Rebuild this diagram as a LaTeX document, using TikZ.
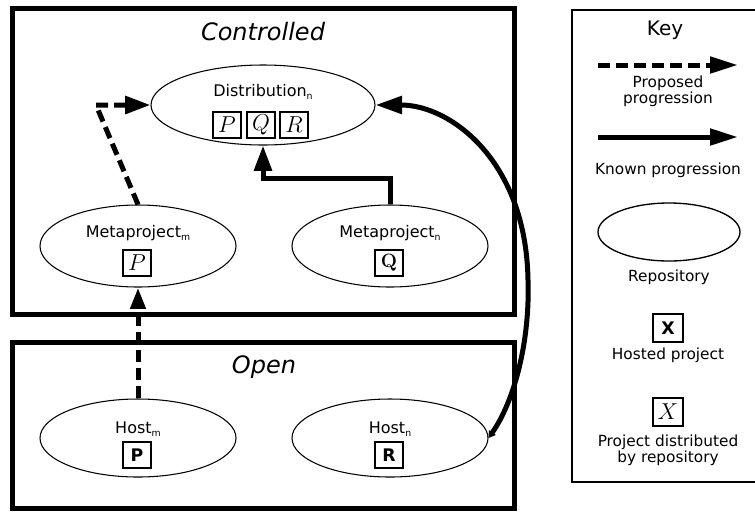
\documentclass[tikz,border=0pt]{standalone}
\usepackage[no-math]{fontspec}
\setmainfont{DejaVu Sans}
\usetikzlibrary{shapes.geometric,arrows.meta}
\newcommand{\repsub}[1]{\raisebox{-2.5pt}{\fontsize{7}{7}\selectfont #1}}

\begin{document}
\begin{tikzpicture}[x=0.75pt,y=-0.75pt]
		\tikzset{repo/.style={draw,ellipse,line width=0.8pt,inner sep=0pt},
			proj/.style={draw,line width=0.9pt,minimum width=21pt,minimum height=19.5pt,inner sep=0pt,font=\fontsize{16}{16}\selectfont},
			region/.style={draw,line width=3.75pt},
			known/.style={line width=3.75pt,-{Triangle[length=19pt,width=13pt]}},
			proposed/.style={known,dash pattern=on 9pt off 4.5pt},
			lbl/.style={font=\fontsize{12}{14}\selectfont},
			keylbl/.style={font=\fontsize{11.5}{12}\selectfont,align=center},
			boxtitle/.style={font=\fontsize{18}{20}\selectfont\itshape}};
		\useasboundingbox (0,0) rectangle (755,511);
		\draw[region] (12,8) rectangle (514,314);
		\draw[region] (12,342) rectangle (514,508);
		\draw[line width=1.1pt] (572,10) rectangle (775,482);
		\node[boxtitle] (controlled) at (263,32) {Controlled};
		\node[boxtitle] (open) at (264,367) {Open};
		\node[repo,minimum width=168pt,minimum height=60pt] (dist) at (263,105) {};
		\node[lbl] (distname) at (263,92) {Distribution\repsub{n}};
		\node[proj] (distp) at (227,125) {$P$};
		\node[proj] (distq) at (261,125) {$Q$};
		\node[proj] (distr) at (294,125) {$R$};
		\node[repo,minimum width=147pt,minimum height=61.5pt] (metam) at (138,246) {};
		\node[lbl] (metamname) at (138,233) {Metaproject\repsub{m}};
		\node[proj] (metamp) at (137,263) {$P$};
		\node[repo,minimum width=147pt,minimum height=61.5pt] (metan) at (390,246) {};
		\node[lbl] (metanname) at (390,233) {Metaproject\repsub{n}};
		\node[proj,font=\fontsize{15}{15}\selectfont] (metanq) at (389,263) {$\mathbf{Q}$};
		\node[repo,minimum width=147pt,minimum height=58.5pt] (hostm) at (138,438) {};
		\node[lbl] (hostmname) at (138,429) {Host\repsub{m}};
		\node[proj,font=\fontsize{13}{13}\selectfont] (hostmp) at (137,455) {\textbf{P}};
		\node[repo,minimum width=147pt,minimum height=58.5pt] (hostn) at (390,438) {};
		\node[lbl] (hostnname) at (390,429) {Host\repsub{n}};
		\node[proj,font=\fontsize{13}{13}\selectfont] (hostnr) at (389,455) {\textbf{R}};
		\coordinate (bend) at (96,105);
		\coordinate (elbow) at (263,178);
		\coordinate (swing) at (528,280);
		\draw[proposed] (metam.north) -- (bend) -- (dist.west);
		\draw[known] (metan.north) |- (elbow) -- (dist.south);
		\draw[proposed,-{Triangle[length=16pt,width=11pt]}] (hostm.north) -- (metam.south);
		\draw[known,{Triangle[length=5pt,width=6pt]}-{Triangle[length=20pt,width=13pt]}] (hostn.east) .. controls (515,400) and (530,340) .. (swing) .. controls (526,160) and (450,105) .. (dist.east);
		\node[font=\fontsize{15}{16}\selectfont] (key) at (665,30) {Key};
		\coordinate (kpa) at (598,65);
		\coordinate (kpb) at (738,65);
		\draw[proposed,-{Triangle[length=21pt,width=12pt]}] (kpa) -- (kpb);
		\node[keylbl] (kptext) at (668,91) {Proposed\\progression};
		\coordinate (kka) at (598,137);
		\coordinate (kkb) at (738,137);
		\draw[known,-{Triangle[length=21pt,width=12pt]}] (kka) -- (kkb);
		\node[keylbl] (kktext) at (668,170) {Known progression};
		\node[repo,minimum width=106.5pt,minimum height=43.5pt,line width=1pt] (krepo) at (669,232) {};
		\node[keylbl] (krepotext) at (669,277) {Repository};
		\node[proj,minimum width=22.5pt,minimum height=21pt,font=\fontsize{13}{13}\selectfont] (khost) at (668,328) {\textbf{X}};
		\node[keylbl] (khosttext) at (668,355) {Hosted project};
		\node[proj,minimum width=22.5pt,minimum height=21pt] (kdist) at (668,412) {$X$};
		\node[keylbl] (kdisttext) at (668,450) {Project distributed\\by repository};
	\end{tikzpicture}
\end{document}
